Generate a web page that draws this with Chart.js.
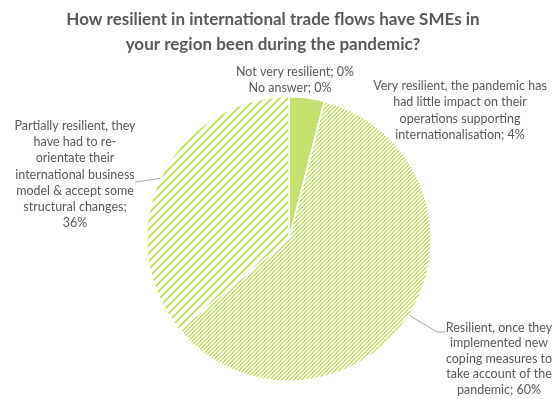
<!DOCTYPE html>
<html lang="en">
<head>
  <meta charset="UTF-8" />
  <title>SME resilience in international trade flows</title>
  <script src="https://cdn.jsdelivr.net/npm/chart.js"></script>
  <style>
    html, body { margin: 0; padding: 0; background: #fff; }
    #wrap { width: 555px; height: 399px; }
  </style>
</head>
<body>
  <div id="wrap"><canvas id="pie" width="555" height="399"></canvas></div>

  <script>
    // Survey answers, clockwise from 12 o'clock
    const categories = [
      'Very resilient, the pandemic has had little impact on their operations supporting internationalisation',
      'Resilient, once they implemented new coping measures to take account of the pandemic',
      'Partially resilient, they have had to re-orientate their international business model & accept some structural changes',
      'Not very resilient',
      'No answer'
    ];
    const shares = [4, 60, 36, 0, 0];

    // Label text as it is wrapped on the chart
    const labelLines = [
      ['Very resilient, the pandemic has', 'had little impact on their', 'operations supporting', 'internationalisation; 4%'],
      ['Resilient, once they', 'implemented new', 'coping measures to', 'take account of the', 'pandemic; 60%'],
      ['Partially resilient, they', 'have had to re-', 'orientate their', 'international business', 'model & accept some', 'structural changes;', '36%'],
      ['Not very resilient; 0%'],
      ['No answer; 0%']
    ];

    const titleLines = ['How resilient in international trade flows have SMEs in', 'your region been during the pandemic?'];

    const GREEN = '#c6e26e';
    const TEXT = '#595959';

    // diagonal hatch tiles ("/" direction)
    function hatch(period, band) {
      const c = document.createElement('canvas');
      c.width = period; c.height = period;
      const g = c.getContext('2d');
      g.fillStyle = '#ffffff';
      g.fillRect(0, 0, period, period);
      g.fillStyle = GREEN;
      for (let y = 0; y < period; y++) {
        for (let x = 0; x < period; x++) {
          if ((x + y) % period < band) g.fillRect(x, y, 1, 1);
        }
      }
      return g.createPattern(c, 'repeat');
    }

    const fineHatch = hatch(4, 2);
    const wideHatch = hatch(8, 3);

    // where each label sits: centre x, first line y, optional leader elbow
    const labelStyle = [
      { x: 460, y: 86, line: null },
      { x: 499, y: 328, line: { elbow: [437, 332], end: [445, 332] } },
      { x: 75, y: 126, line: { elbow: [135, 182], end: [135, 182] } },
      { x: 295, y: 72, line: null },
      { x: 290, y: 88, line: null }
    ];
    const lineGap = [16.3, 15.4, 16.2, 16, 16];

    const labelPlugin = {
      id: 'sliceLabels',
      afterDraw(chart) {
        const ctx = chart.ctx;
        ctx.save();

        // title
        ctx.fillStyle = TEXT;
        ctx.textAlign = 'center';
        ctx.textBaseline = 'middle';
        ctx.font = 'bold 17px Lato, "Open Sans", sans-serif';
        titleLines.forEach((t, i) => ctx.fillText(t, 273, 20 + i * 25));

        const meta = chart.getDatasetMeta(0);
        meta.data.forEach((arc, i) => {
          const st = labelStyle[i];
          if (st.line) {
            const p = arc.getProps(['x', 'y', 'startAngle', 'endAngle', 'outerRadius'], true);
            const mid = (p.startAngle + p.endAngle) / 2;
            const ax = p.x + Math.cos(mid) * p.outerRadius;
            const ay = p.y + Math.sin(mid) * p.outerRadius;
            ctx.strokeStyle = '#a6a6a6';
            ctx.lineWidth = 1;
            ctx.beginPath();
            ctx.moveTo(ax, ay);
            ctx.lineTo(st.line.elbow[0], st.line.elbow[1]);
            ctx.lineTo(st.line.end[0], st.line.end[1]);
            ctx.stroke();
          }
          ctx.fillStyle = TEXT;
          ctx.font = '12.5px Lato, "Open Sans", sans-serif';
          labelLines[i].forEach((t, k) => ctx.fillText(t, st.x, st.y + k * lineGap[i]));
        });
        ctx.restore();
      }
    };

    new Chart(document.getElementById('pie').getContext('2d'), {
      type: 'pie',
      data: {
        labels: categories,
        datasets: [{
          data: shares,
          backgroundColor: [GREEN, fineHatch, wideHatch, GREEN, GREEN],
          borderColor: '#ffffff',
          borderWidth: 1.5
        }]
      },
      options: {
        responsive: false,
        animation: false,
        layout: { padding: { top: 96, bottom: 17, left: 146, right: 123 } },
        plugins: {
          legend: { display: false },
          title: { display: false },
          tooltip: { enabled: false }
        }
      },
      plugins: [labelPlugin]
    });
  </script>
</body>
</html>
